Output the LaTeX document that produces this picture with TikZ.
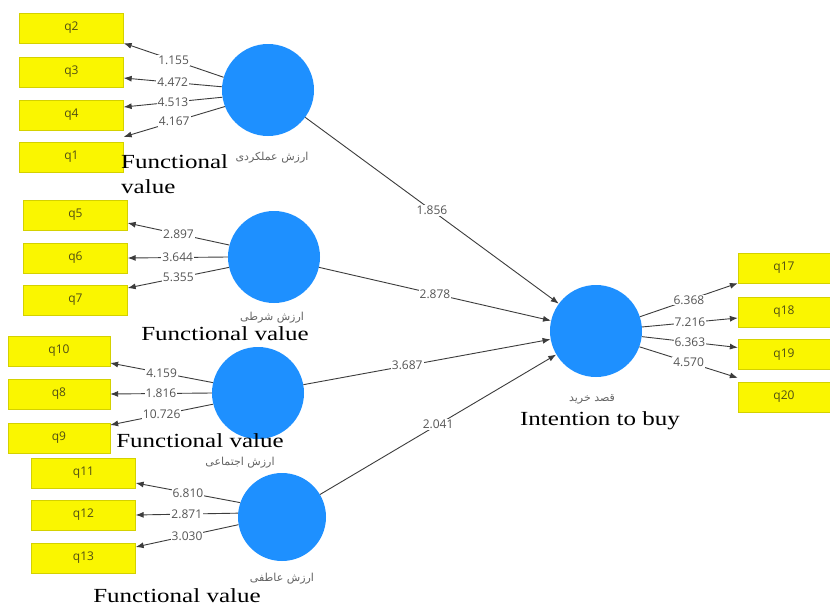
\documentclass[tikz,border=0pt]{standalone}
\usepackage{fontspec}
\setmainfont{Liberation Serif}
\newfontfamily\labelfont[FakeStretch=1.25]{Liberation Serif}
\newfontfamily\plsfont{Open Sans}
\newfontfamily\arabicfont[Script=Arabic]{DejaVu Sans}
\TeXXeTstate=1
\usepackage{xcolor}
\usetikzlibrary{arrows.meta}
\definecolor{itemyellow}{RGB}{250,246,0}
\definecolor{itemtext}{RGB}{80,78,20}
\definecolor{lvblue}{RGB}{30,144,255}
\definecolor{edgegray}{RGB}{60,60,60}
\definecolor{numgray}{RGB}{85,85,85}
\definecolor{namegray}{RGB}{100,100,100}

\begin{document}
\begin{tikzpicture}[x=1pt, y=-1pt,
    item/.style={fill=itemyellow, draw=itemyellow!85!black, line width=0.3pt, minimum width=104pt, minimum height=30pt, inner sep=0pt, font=\plsfont\fontsize{12}{14}\selectfont, text=itemtext},
    latent/.style={circle, fill=lvblue, minimum size=92pt, inner sep=0pt},
    link/.style={draw=edgegray, line width=0.9pt, -{Latex[length=8pt,width=6pt]}},
    weight/.style={fill=white, inner sep=1pt, font=\plsfont\fontsize{12}{14}\selectfont, text=numgray},
    faname/.style={font=\arabicfont\fontsize{11}{13}\selectfont, text=namegray, inner sep=0pt},
    enname/.style={font=\labelfont\fontsize{20}{25}\selectfont, inner sep=0pt}]
                \path[use as bounding box, fill=white] (0,0) rectangle (830,608);

                \node[item] (q2) at (71.5, 28) {q2};
                \node[item] (q3) at (71.5, 72) {q3};
                \node[item] (q4) at (71.5, 115) {q4};
                \node[item] (q1) at (71.5, 157) {q1};
                \node[item] (q5) at (75.5, 215) {q5};
                \node[item] (q6) at (75.5, 258) {q6};
                \node[item] (q7) at (75.5, 300) {q7};
                \node[item, minimum width=102pt] (q10) at (59, 351) {q10};
                \node[item, minimum width=102pt] (q8) at (59, 394) {q8};
                \node[item, minimum width=102pt] (q9) at (59, 438) {q9};
                \node[item] (q11) at (83.5, 473) {q11};
                \node[item] (q12) at (83.5, 515) {q12};
                \node[item] (q13) at (83.5, 558) {q13};
                \node[item, minimum width=92pt] (q17) at (784, 268) {q17};
                \node[item, minimum width=92pt] (q18) at (784, 312) {q18};
                \node[item, minimum width=92pt] (q19) at (784, 354.5) {q19};
                \node[item, minimum width=92pt] (q20) at (784, 397) {q20};

                \node[latent] (func) at (268, 90) {};
                \node[latent] (cond) at (274, 257) {};
                \node[latent] (soc) at (258, 393) {};
                \node[latent, minimum size=88pt] (emo) at (282, 517) {};
                \node[latent] (buy) at (596, 331) {};

                \node[faname] (funcfa) at (272, 158) {\beginR ارزش عملکردی\endR};
                \node[faname] (condfa) at (272, 318) {\beginR ارزش شرطی\endR};
                \node[faname] (socfa) at (240, 463) {\beginR ارزش اجتماعی\endR};
                \node[faname] (emofa) at (282, 579) {\beginR ارزش عاطفی\endR};
                \node[faname] (buyfa) at (592, 399) {\beginR قصد خرید\endR};

                \node[enname, align=left, anchor=base west] (funcen) at (121, 193) {Functional\\value};
                \node[enname, anchor=base] (conden) at (225, 340) {Functional value};
                \node[enname, anchor=base] (socen) at (200, 447) {Functional value};
                \node[enname, anchor=base] (emoen) at (177, 602) {Functional value};
                \node[enname, anchor=base] (buyen) at (600, 425) {Intention to buy};

                \draw[link] (func.164) -- node[weight] {1.155} (q2.south east);
                \draw[link] (func.176) -- node[weight] {4.472} ([yshift=-6pt]q3.east);
                \draw[link] (func.189) -- node[weight] {4.513} ([yshift=8pt]q4.east);
                \draw[link] (func.201) -- node[weight] {4.167} ([yshift=5pt]q1.north east);

                \draw[link] (cond.165) -- node[weight] {2.897} ([yshift=-8pt]q5.east);
                \draw[link] (cond.180) -- node[weight] {3.644} (q6.east);
                \draw[link] (cond.193) -- node[weight] {5.355} ([yshift=12pt]q7.east);

                \draw[link] (soc.167) -- node[weight] {4.159} ([yshift=-12pt]q10.east);
                \draw[link] (soc.180) -- node[weight] {1.816} (q8.east);
                \draw[link] (soc.194) -- node[weight] {10.726} ([yshift=13pt]q9.east);

                \draw[link] (emo.161) -- node[weight] {6.810} ([yshift=-10pt]q11.east);
                \draw[link] (emo.175) -- node[weight] {2.871} (q12.east);
                \draw[link] (emo.190) -- node[weight] {3.030} ([yshift=11pt]q13.east);

                \draw[link] (buy.18) -- node[weight] {6.368} (q17.south west);
                \draw[link] (buy.5) -- node[weight] {7.216} ([yshift=-6pt]q18.west);
                \draw[link] (buy.-7) -- node[weight] {6.363} ([yshift=7pt]q19.west);
                \draw[link] (buy.-20) -- node[weight] {4.570} ([yshift=4pt]q20.north west);

                \draw[link] (func) -- node[weight] {1.856} (buy);
                \draw[link] (cond) -- node[weight] {2.878} (buy);
                \draw[link] (soc) -- node[weight, pos=0.42] {3.687} (buy);
                \draw[link] (emo) -- node[weight] {2.041} (buy);
            \end{tikzpicture}
\end{document}
